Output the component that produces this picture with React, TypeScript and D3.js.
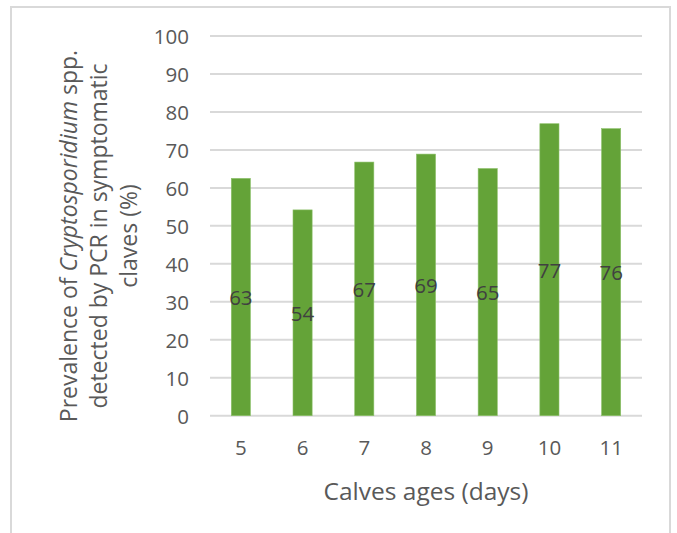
import React from "react";
import * as d3 from "d3";

const categories = ["5", "6", "7", "8", "9", "10", "11"];
const prevalence = [62.5, 54.2, 66.8, 68.9, 65.1, 76.9, 75.6];
const labels = ["63", "54", "67", "69", "65", "77", "76"];
const yTicks = [0, 10, 20, 30, 40, 50, 60, 70, 80, 90, 100];

const W = 677;
const H = 533;
const FONT = "'Open Sans', 'DejaVu Sans', sans-serif";

export default function App() {
  const x = d3
    .scaleBand<string>()
    .domain(categories)
    .range([210, 642])
    .paddingInner(0.69)
    .paddingOuter(0.345);
  const y = d3.scaleLinear().domain([0, 100]).range([415.7, 36]);

  return (
    <svg
      width={W}
      height={H}
      style={{ position: "absolute", left: 0, top: 0, background: "#fff" }}
    >
      <rect x={0} y={0} width={W} height={H} fill="#fff" />
      <rect
        x={11}
        y={7}
        width={659}
        height={560}
        fill="none"
        stroke="#d9d9d9"
        strokeWidth={2}
      />
      {yTicks.map((t) => (
        <g key={t}>
          <line
            x1={210}
            x2={642}
            y1={y(t)}
            y2={y(t)}
            stroke="#d9d9d9"
            strokeWidth={2}
          />
          <text
            x={189}
            y={y(t)}
            textAnchor="end"
            dominantBaseline="central"
            fontFamily={FONT}
            fontSize={20.5}
            fill="#595959"
          >
            {t}
          </text>
        </g>
      ))}
      {categories.map((c, i) => (
        <g key={c}>
          <rect
            x={x(c)!}
            y={y(prevalence[i])}
            width={x.bandwidth()}
            height={y(0) - y(prevalence[i])}
            fill="#64a338"
            stroke="#8cc06a"
            strokeWidth={0.6}
          />
          <text
            x={x(c)! + x.bandwidth() / 2}
            y={y(prevalence[i] / 2)}
            textAnchor="middle"
            dominantBaseline="central"
            fontFamily={FONT}
            fontSize={20.5}
            fill="#404040"
          >
            {labels[i]}
          </text>
          <text
            x={x(c)! + x.bandwidth() / 2}
            y={447}
            textAnchor="middle"
            dominantBaseline="central"
            fontFamily={FONT}
            fontSize={20.5}
            fill="#595959"
          >
            {c}
          </text>
        </g>
      ))}
      <text
        x={426}
        y={490}
        textAnchor="middle"
        dominantBaseline="central"
        fontFamily={FONT}
        fontSize={24.5}
        fill="#595959"
      >
        Calves ages (days)
      </text>
      <g transform="translate(0,236) rotate(-90)" fontFamily={FONT} fontSize={23} fill="#595959">
        <text x={0} y={77} textAnchor="middle">
          Prevalence of <tspan fontStyle="italic">Cryptosporidium</tspan> spp.
        </text>
        <text x={0} y={107} textAnchor="middle">
          detected by PCR in symptomatic
        </text>
        <text x={0} y={137} textAnchor="middle">
          claves (%)
        </text>
      </g>
    </svg>
  );
}
